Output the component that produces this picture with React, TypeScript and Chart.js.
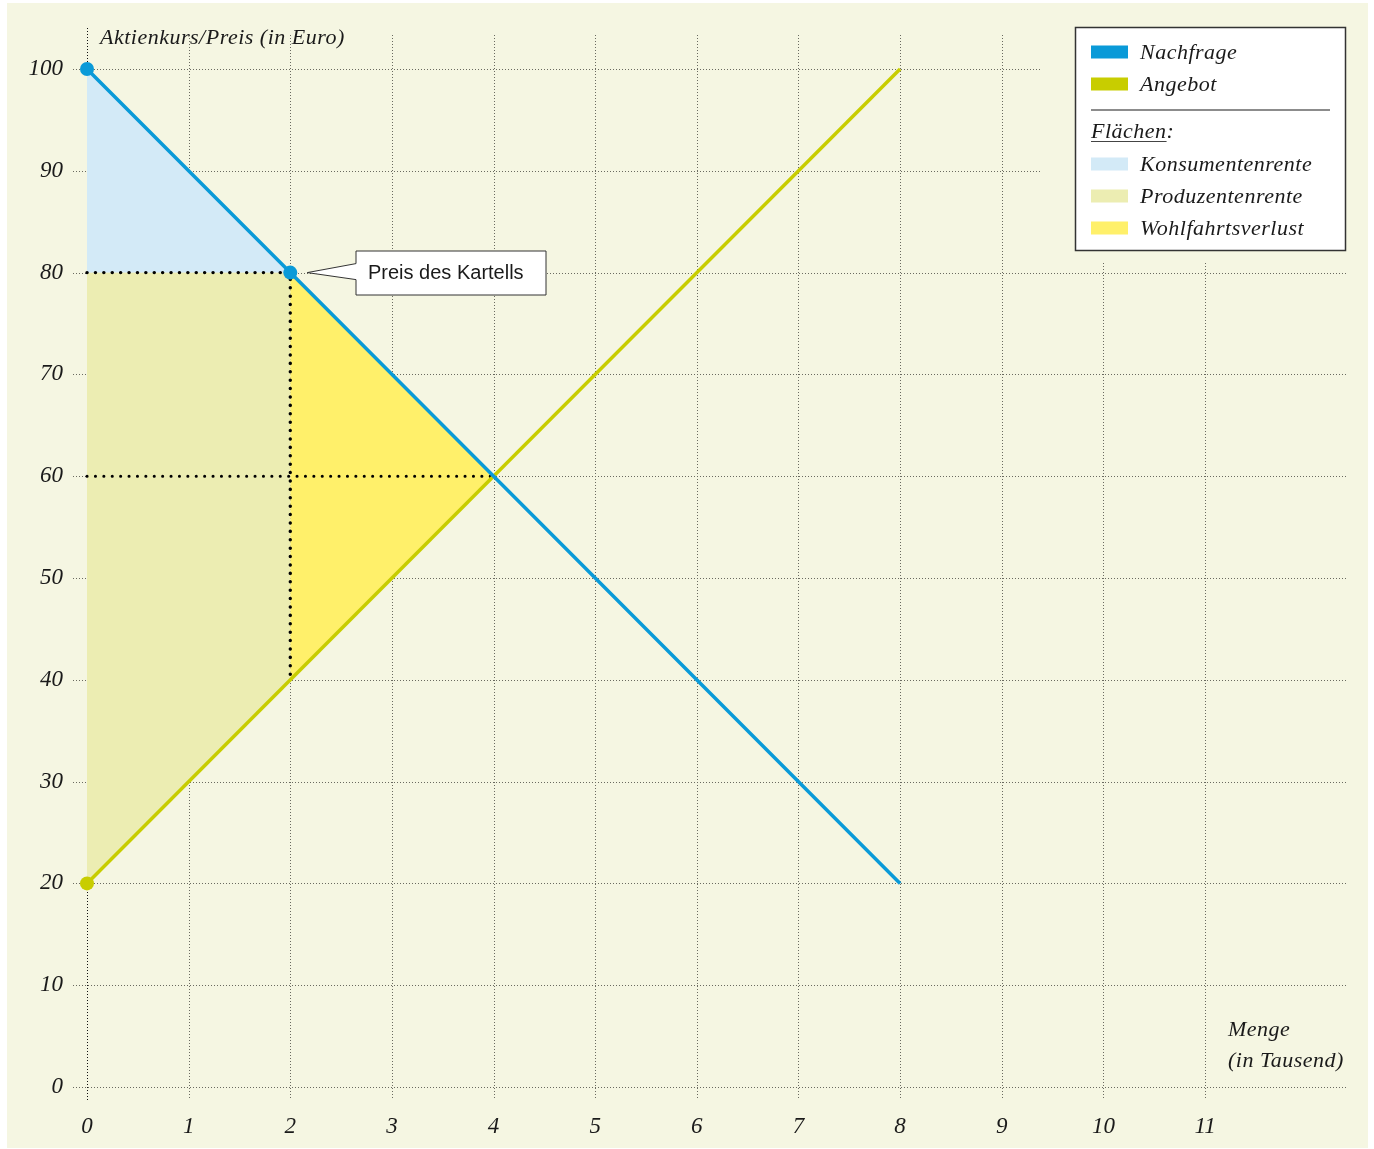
import { useEffect, useRef } from 'react';
import { Chart, registerables } from 'chart.js';

Chart.register(...registerables);

// ---- data ----
const xTicks = [0, 1, 2, 3, 4, 5, 6, 7, 8, 9, 10, 11];
const yTicks = [0, 10, 20, 30, 40, 50, 60, 70, 80, 90, 100];

const demandX = [0, 2, 8];
const demandY = [100, 80, 20];
const supplyX = [0, 8];
const supplyY = [20, 100];

const consumerX = [0, 2, 0, 0];
const consumerY = [100, 80, 80, 100];
const producerX = [0, 2, 2, 0, 0];
const producerY = [80, 80, 40, 20, 80];
const lossX = [2, 4, 2, 2];
const lossY = [80, 60, 40, 80];

const cartelX = [0, 2, 2];
const cartelY = [80, 80, 40];
const equilX = [0, 4];
const equilY = [60, 60];

const lineLabels = ['Nachfrage', 'Angebot'];
const areaLabels = ['Konsumentenrente', 'Produzentenrente', 'Wohlfahrtsverlust'];
const areaHeading = 'Flächen:';
const yTitle = 'Aktienkurs/Preis (in Euro)';
const xTitle = ['Menge', '(in Tausend)'];
const calloutText = 'Preis des Kartells';

// ---- styles ----
const BG = '#f5f6e2';
const BLUE = '#0a9ad8';
const GREEN = '#c8cd00';
const LIGHTBLUE = '#d3eaf7';
const PRODUCER = '#ecedb2';
const YELLOW = '#fff06a';
const SERIF = '"Liberation Serif", "DejaVu Serif", serif';
const OFFX = 7;
const OFFY = 3;

const pts = (xs: number[], ys: number[]) => xs.map((x, i) => ({ x, y: ys[i] }));

export default function App() {
  const ref = useRef<HTMLCanvasElement | null>(null);

  useEffect(() => {
    if (!ref.current) return;
    const px = (x: number) => x - OFFX;
    const py = (y: number) => y - OFFY;

    const decor = {
      id: 'decor',
      beforeDatasetsDraw(chart: any) {
        const ctx = chart.ctx as CanvasRenderingContext2D;
        const xs = chart.scales.x;
        const ys = chart.scales.y;
        const a = chart.chartArea;
        ctx.save();
        ctx.lineWidth = 1;
        ctx.setLineDash([1, 2]);
        ctx.strokeStyle = '#6a6a60';
        for (const v of yTicks) {
          const y = Math.round(ys.getPixelForValue(v)) + 0.5;
          ctx.beginPath();
          ctx.moveTo(a.left - 14, y);
          ctx.lineTo(a.right + 2, y);
          ctx.stroke();
        }
        for (const v of xTicks) {
          const x = Math.round(xs.getPixelForValue(v)) + 0.5;
          ctx.strokeStyle = v === 0 ? '#111' : '#6a6a60';
          ctx.beginPath();
          ctx.moveTo(x, v === 0 ? a.top - 7 : a.top);
          ctx.lineTo(x, a.bottom + 13);
          ctx.stroke();
        }
        ctx.restore();

        // axis titles
        ctx.save();
        ctx.fillStyle = '#1a1a1a';
        ctx.font = `italic 22px ${SERIF}`;
        (ctx as any).letterSpacing = '0.5px';
        ctx.textBaseline = 'alphabetic';
        ctx.fillText(yTitle, px(100), py(44));
        ctx.fillText(xTitle[0], px(1228), py(1036));
        ctx.fillText(xTitle[1], px(1228), py(1067));
        ctx.restore();
      },
      afterDatasetsDraw(chart: any) {
        const ctx = chart.ctx as CanvasRenderingContext2D;
        ctx.save();
        // legend clearing area
        ctx.fillStyle = BG;
        ctx.fillRect(px(1041), 0, px(1344) - px(1041), py(263));
        // legend box
        ctx.fillStyle = '#ffffff';
        ctx.fillRect(px(1075), py(27), 270, 223);
        ctx.strokeStyle = '#333';
        ctx.lineWidth = 1.5;
        ctx.strokeRect(px(1075) + 0.5, py(27) + 0.5, 270, 223);

        ctx.font = `italic 22px ${SERIF}`;
        (ctx as any).letterSpacing = '0.5px';
        ctx.textBaseline = 'middle';
        ctx.fillStyle = '#1a1a1a';
        const lineColors = [BLUE, GREEN];
        const lineRows = [52, 84];
        lineLabels.forEach((l, i) => {
          ctx.fillStyle = lineColors[i];
          ctx.fillRect(px(1091), py(lineRows[i] - 6.5), 37, 13);
          ctx.fillStyle = '#1a1a1a';
          ctx.fillText(l, px(1140), py(lineRows[i] + 1));
        });
        // separator
        ctx.strokeStyle = '#666';
        ctx.lineWidth = 1.5;
        ctx.beginPath();
        ctx.moveTo(px(1091), py(110));
        ctx.lineTo(px(1330), py(110));
        ctx.stroke();
        // heading
        ctx.textBaseline = 'alphabetic';
        ctx.fillStyle = '#1a1a1a';
        ctx.fillText(areaHeading, px(1091), py(138));
        const hw = ctx.measureText(areaHeading.slice(0, -1)).width;
        ctx.strokeStyle = '#444';
        ctx.lineWidth = 1;
        ctx.beginPath();
        ctx.moveTo(px(1091), py(141.5));
        ctx.lineTo(px(1091) + hw, py(141.5));
        ctx.stroke();
        ctx.textBaseline = 'middle';
        const areaColors = [LIGHTBLUE, PRODUCER, YELLOW];
        const areaRows = [164, 196, 228];
        areaLabels.forEach((l, i) => {
          ctx.fillStyle = areaColors[i];
          ctx.fillRect(px(1091), py(areaRows[i] - 6.5), 37, 13);
          ctx.fillStyle = '#1a1a1a';
          ctx.fillText(l, px(1140), py(areaRows[i] + 1));
        });
        ctx.restore();

        // callout
        const xs = chart.scales.x;
        const ys = chart.scales.y;
        const tipX = xs.getPixelForValue(cartelX[1]) + 17;
        const tipY = ys.getPixelForValue(cartelY[1]);
        ctx.save();
        ctx.beginPath();
        const L = px(356), T = py(251), R = px(546), B = py(295);
        ctx.moveTo(L, T);
        ctx.lineTo(R, T);
        ctx.lineTo(R, B);
        ctx.lineTo(L, B);
        ctx.lineTo(L, tipY + 7);
        ctx.lineTo(tipX, tipY);
        ctx.lineTo(L, tipY - 9);
        ctx.closePath();
        ctx.fillStyle = '#fff';
        ctx.fill();
        ctx.strokeStyle = '#333';
        ctx.lineWidth = 1;
        ctx.stroke();
        ctx.fillStyle = '#1a1a1a';
        ctx.font = '20px "Liberation Sans", Arial, sans-serif';
        ctx.textBaseline = 'middle';
        ctx.fillText(calloutText, px(368), py(273));
        ctx.restore();
      },
    };

    const dotted = {
      borderColor: '#000',
      borderWidth: 3.4,
      borderDash: [0.1, 8.3],
      borderCapStyle: 'round',
      pointRadius: 0,
      fill: false,
      clip: false as any,
    };

    const chart = new Chart(ref.current, {
      type: 'line',
      data: {
        datasets: [
          { data: pts(consumerX, consumerY), backgroundColor: LIGHTBLUE, borderColor: 'rgba(0,0,0,0)', borderWidth: 0.01, fill: 'shape', pointRadius: 0, order: 10 },
          { data: pts(producerX, producerY), backgroundColor: PRODUCER, borderColor: 'rgba(0,0,0,0)', borderWidth: 0.01, fill: 'shape', pointRadius: 0, order: 10 },
          { data: pts(lossX, lossY), backgroundColor: YELLOW, borderColor: 'rgba(0,0,0,0)', borderWidth: 0.01, fill: 'shape', pointRadius: 0, order: 10 },
          { data: pts(equilX, equilY), ...dotted, borderWidth: 3, order: 6 } as any,
          { data: pts(cartelX, cartelY), ...dotted, order: 5 } as any,
          {
            data: pts(supplyX, supplyY), borderColor: GREEN, borderWidth: 3.5, fill: false,
            pointRadius: [7, 0], pointBackgroundColor: GREEN, pointBorderWidth: 0, clip: false as any, order: 2,
          } as any,
          {
            data: pts(demandX, demandY), borderColor: BLUE, borderWidth: 3.5, fill: false,
            pointRadius: [7, 7, 0], pointBackgroundColor: BLUE, pointBorderWidth: 0, clip: false as any, order: 1,
          } as any,
        ],
      },
      options: {
        animation: false,
        responsive: true,
        maintainAspectRatio: false,
        layout: { padding: { left: 0, top: 32, right: 23, bottom: 0 } },
        elements: { line: { tension: 0 } },
        plugins: { legend: { display: false }, tooltip: { enabled: false } },
        events: [],
        scales: {
          x: {
            type: 'linear',
            min: 0,
            max: 12.377,
            border: { display: false },
            grid: { display: false },
            afterBuildTicks: (axis: any) => { axis.ticks = xTicks.map((v) => ({ value: v })); },
            afterFit: (s: any) => { s.height = 61; s.paddingLeft = 0; s.paddingRight = 0; s.paddingTop = 0; s.paddingBottom = 0; },
            ticks: {
              padding: 18,
              color: '#1a1a1a',
              font: { family: SERIF, style: 'italic', size: 23 },
              callback: (v: any) => String(v),
            },
          },
          y: {
            type: 'linear',
            min: 0,
            max: 103.34,
            border: { display: false },
            grid: { display: false },
            afterBuildTicks: (axis: any) => { axis.ticks = yTicks.map((v) => ({ value: v })); },
            afterFit: (s: any) => { s.width = 80; s.paddingTop = 0; s.paddingBottom = 0; s.paddingLeft = 0; s.paddingRight = 0; },
            ticks: {
              padding: 16,
              color: '#1a1a1a',
              font: { family: SERIF, style: 'italic', size: 23 },
              callback: (v: any) => String(v),
            },
          },
        },
      } as any,
      plugins: [decor],
    });
    return () => chart.destroy();
  }, []);

  return (
    <div style={{ position: 'absolute', left: OFFX, top: OFFY, width: 1361, height: 1145, background: BG }}>
      <canvas ref={ref} style={{ width: '100%', height: '100%' }} />
    </div>
  );
}
